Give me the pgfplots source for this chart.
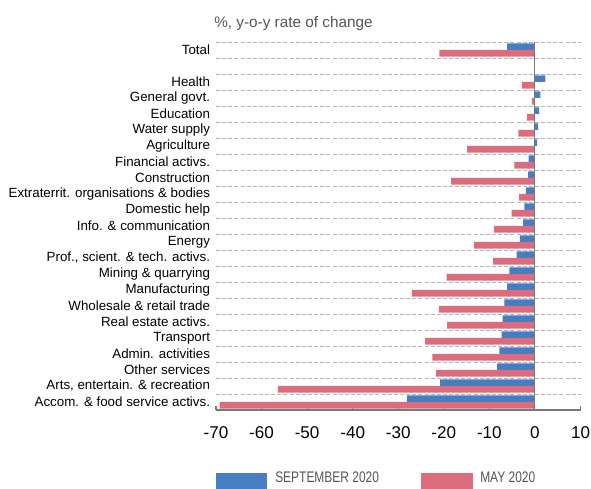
\documentclass[border=0pt]{standalone}
\usepackage{fontspec}
\setmainfont{Liberation Sans}
\newfontfamily\condensed[FakeStretch=0.78]{Liberation Sans}
\usepackage{pgfplots}
\pgfplotsset{compat=1.18}

\definecolor{sepblue}{RGB}{70,126,195}
\definecolor{maypink}{RGB}{218,108,124}
\definecolor{gridgray}{RGB}{178,178,178}
\definecolor{axisgray}{RGB}{120,120,120}
\definecolor{titlegray}{RGB}{85,85,85}

\begin{document}
\begin{tikzpicture}
\begin{axis}[
    at={(0,0)}, anchor=south west,
    scale only axis,
    width=273.4pt, height=276pt,
    xbar,
    xmin=-70, xmax=10,
    ymin=-0.5, ymax=22.5,
    axis x line*=bottom, axis y line*=left,
    y axis line style={draw=none},
    x axis line style={axisgray, line width=1pt},
    xtick={-70,-60,...,10},
    xtick align=inside,
    major x tick style={axisgray, line width=0.8pt},
    major tick length=2.8pt,
    /pgf/number format/assume math mode=true,
    xticklabel style={font=\fontsize{12.8}{14}\selectfont, inner sep=0pt, anchor=north, yshift=-12.3pt},
    ytick={0,1,...,20,22},
    yticklabels={
        Accom. \& food service activs.,
        {Arts, entertain. \& recreation},
        Other services,
        Admin. activities,
        Transport,
        Real estate activs.,
        Wholesale \& retail trade,
        Manufacturing,
        Mining \& quarrying,
        {Prof., scient. \& tech. activs.},
        Energy,
        Info. \& communication,
        Domestic help,
        Extraterrit. organisations \& bodies,
        Construction,
        Financial activs.,
        Agriculture,
        Water supply,
        Education,
        General govt.,
        Health,
        Total},
    major y tick style={draw=none},
    yticklabel style={font=\fontsize{10}{12}\selectfont, inner sep=0pt, anchor=east, xshift=-1.5pt},
    minor ytick={0.5,1.5,...,22.5},
    minor y tick style={draw=none},
    yminorgrids=true,
    minor grid style={gridgray, line width=0.7pt, dash pattern=on 3pt off 1.6pt},
    bar width=0.42,
]
% SEPTEMBER 2020
\addplot[fill=sepblue, draw=none, bar shift=0.21] coordinates {
    (-6.1,22) (2.3,20) (1.2,19) (0.9,18) (0.7,17) (0.5,16) (-1.4,15)
    (-1.5,14) (-2.0,13) (-2.3,12) (-2.6,11) (-3.3,10) (-4.0,9) (-5.6,8)
    (-6.1,7) (-6.7,6) (-7.1,5) (-7.3,4) (-7.8,3) (-8.3,2) (-20.8,1) (-28.1,0)
};
% MAY 2020
\addplot[fill=maypink, draw=none, bar shift=-0.21] coordinates {
    (-21.0,22) (-2.85,20) (-0.7,19) (-1.75,18) (-3.65,17) (-14.9,16) (-4.5,15)
    (-18.4,14) (-3.5,13) (-5.1,12) (-9.0,11) (-13.4,10) (-9.2,9) (-19.4,8)
    (-27.0,7) (-21.1,6) (-19.3,5) (-24.1,4) (-22.5,3) (-21.7,2) (-56.4,1) (-69.2,0)
};
\draw[axisgray, line width=0.8pt] (axis cs:0,-0.5) -- (axis cs:0,22.5);
\end{axis}

% title
\node[anchor=base west, inner sep=0pt, text=titlegray, font=\fontsize{11.5}{13}\selectfont]
    at (-1.5pt,286.5pt) {\%, y-o-y rate of change};

% legend, low on the page as in the reference
\fill[sepblue] (0pt,-47.5pt) rectangle (38.25pt,-66pt);
\node[anchor=north west, inner sep=0pt, text=titlegray, font=\condensed\fontsize{11.5}{13}\selectfont]
    at (44.25pt,-46.5pt) {SEPTEMBER 2020};
\fill[maypink] (153.75pt,-47.5pt) rectangle (192.75pt,-66pt);
\node[anchor=north west, inner sep=0pt, text=titlegray, font=\condensed\fontsize{11.5}{13}\selectfont]
    at (198pt,-46.5pt) {MAY 2020};

\pgfresetboundingbox
\useasboundingbox (-162pt,-58.5pt) rectangle (281.25pt,307.5pt);
\end{tikzpicture}
\end{document}
